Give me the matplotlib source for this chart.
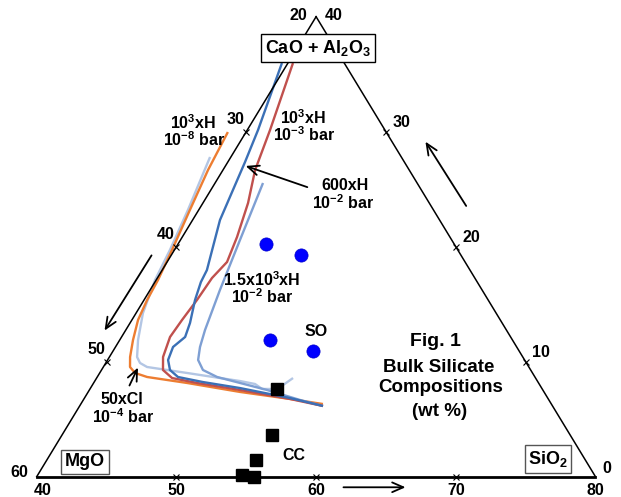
import numpy as np
import matplotlib.pyplot as plt

plt.rcParams['font.family'] = ['Liberation Sans', 'DejaVu Sans']
plt.rcParams['font.weight'] = 'bold'
plt.rcParams['mathtext.fontset'] = 'custom'
plt.rcParams['mathtext.rm'] = 'Liberation Sans:bold'
plt.rcParams['mathtext.it'] = 'Liberation Sans:bold'
plt.rcParams['mathtext.bf'] = 'Liberation Sans:bold'
plt.rcParams['mathtext.default'] = 'rm'

# Compositions in wt% : SiO2 and CaO+Al2O3 (MgO is the remainder)
# 10^3 x H, 10^-8 bar
h3_8_sio2 = [38.70, 38.93, 39.37, 39.83, 40.13, 40.22, 40.44, 40.95, 41.48, 41.91,
             42.53, 43.57, 46.69, 50.87, 54.75, 57.33]
h3_8_cao = [29.97, 26.67, 23.19, 19.71, 17.10, 15.37, 13.63, 11.89, 10.41, 9.54,
            9.02, 8.67, 8.15, 7.37, 6.76, 6.32]

# 50 x Cl, 10^-4 bar
cl_sio2 = [38.51, 39.23, 39.68, 39.92, 40.49, 41.31, 41.98, 42.45, 43.13, 46.25,
           48.83, 50.39, 51.60, 52.32, 53.03, 53.65, 54.06]
cl_cao = [27.80, 23.19, 19.71, 17.10, 14.23, 11.89, 10.41, 9.89, 9.54, 9.02,
          8.58, 8.32, 8.06, 7.63, 7.63, 7.97, 8.58]

# 10^3 x H, 10^-3 bar
h3_3_sio2 = [40.36, 41.63, 42.30, 43.23, 43.92, 44.29, 43.91, 43.79, 43.59, 43.47,
             43.84, 44.40, 45.40, 47.40, 50.78, 54.75, 57.42]
h3_3_cao = [35.97, 30.15, 26.67, 23.80, 20.84, 18.67, 17.28, 15.37, 13.63, 12.15,
            10.41, 9.28, 8.58, 8.15, 7.54, 6.76, 6.15]

# 600 x H, 10^-2 bar
h600_sio2 = [39.57, 40.77, 41.23, 41.96, 43.20, 43.29, 43.65, 44.29, 44.55, 44.12,
             44.33, 44.90, 45.78, 47.79, 50.69, 54.71, 57.42]
h600_cao = [35.97, 30.15, 27.37, 22.32, 17.97, 16.93, 15.37, 13.37, 12.15, 11.28,
            10.15, 9.28, 8.67, 8.23, 7.71, 6.84, 6.15]

# 1.5x10^3 x H, 10^-2 bar
h1500_sio2 = [43.43, 44.26, 45.00, 45.67, 46.05, 46.48, 47.26, 48.58, 50.48, 52.72,
              55.52, 57.42]
h1500_cao = [25.54, 20.58, 16.23, 12.76, 11.28, 10.15, 9.28, 8.67, 8.15, 7.54,
             6.67, 6.15]

# SO samples
so_sio2 = [46.29, 49.28, 50.76, 54.31]
so_cao = [20.23, 19.28, 11.89, 10.93]

# CC samples
cc_sio2 = [53.39, 55.03, 54.97, 54.62, 55.55]
cc_cao = [7.63, 3.63, 1.45, 0.15, 0.00]

left_ticks = [10, 20, 30]      # CaO+Al2O3 along the SiO2 = 40 edge
bottom_ticks = [50, 60, 70]    # SiO2 along the base
right_ticks = [10, 20, 30]     # CaO+Al2O3 along the MgO = 20 edge


def tern(sio2, cao):
    sio2 = np.asarray(sio2, dtype=float)
    cao = np.asarray(cao, dtype=float)
    return sio2 + cao / 2.0, cao


W, H = 621, 497
fig = plt.figure(figsize=(W / 100, H / 100), dpi=100)
ax = fig.add_axes([0, 0, 1, 1])
ax.set_xlim(37.373, 81.826)
ax.set_ylim(-1.765, 41.452)
ax.axis('off')


def ptxt(px, py, s, size=11.5, **kw):
    # text placed in canvas pixel units
    fig.text(px / W, 1 - py / H, s, fontsize=size, fontweight='bold',
             ha=kw.pop('ha', 'center'), va=kw.pop('va', 'center'), **kw)


# triangle frame
x, y = tern([40, 40], [0, 40])
ax.plot(x, y, color='black', lw=1.1, zorder=3)
x, y = tern([80, 40], [0, 40])
ax.plot(x, y, color='black', lw=1.1, zorder=3)
x, y = tern([40, 80], [0, 0])
ax.plot(x, y, color='black', lw=2.0, zorder=3)

# tick marks
x, y = tern([40] * 3, left_ticks)
ax.plot(x, y, 'x', color='black', ms=4, mew=0.8, zorder=3)
x, y = tern(bottom_ticks, [0] * 3)
ax.plot(x, y, 'x', color='black', ms=4, mew=0.8, zorder=3)
x, y = tern([80 - c for c in right_ticks], right_ticks)
ax.plot(x, y, 'x', color='black', ms=4, mew=0.8, zorder=3)

tkw = dict(textcoords='offset points', ha='center', va='center',
           fontsize=11.5, fontweight='bold')
for c in left_ticks:
    ax.annotate(str(60 - c), tern(40, c), xytext=(-7.5, 8.6), **tkw)
ax.annotate('60', tern(40, 0), xytext=(-12.5, 3.2), **tkw)
ax.annotate('20', tern(40, 40), xytext=(-13, 0.9), **tkw)
for s in [40] + bottom_ticks + [80]:
    dx = 4.3 if s == 40 else 0
    ax.annotate(str(s), tern(s, 0), xytext=(dx, -9.6), **tkw)
for c in right_ticks:
    ax.annotate(str(c), tern(80 - c, c), xytext=(11.3, 6.6), **tkw)
ax.annotate('0', tern(80, 0), xytext=(8.1, 6.0), **tkw)
ax.annotate('40', tern(40, 40), xytext=(13, 0.9), **tkw)

# model curves
curves = [
    (cl_sio2, cl_cao, '#b3c6e4'),
    (h3_8_sio2, h3_8_cao, '#ed7d31'),
    (h1500_sio2, h1500_cao, '#7e9fd3'),
    (h3_3_sio2, h3_3_cao, '#c0504d'),
    (h600_sio2, h600_cao, '#3b70b6'),
]
for s, c, col in curves:
    x, y = tern(s, c)
    ax.plot(x, y, color=col, lw=1.7, solid_joinstyle='round',
            solid_capstyle='butt', zorder=2)

# samples
x, y = tern(so_sio2, so_cao)
ax.plot(x, y, 'o', color='#0000ff', ms=9.5, mec='#0000cc', mew=0.5, zorder=4)
x, y = tern(cc_sio2, cc_cao)
ax.plot(x, y, 's', color='black', ms=8.6, zorder=4)

# direction arrows
akw = dict(arrowstyle='->,head_length=0.8,head_width=0.35', color='black', lw=1.3)
ax.annotate('', xy=tern(38.50, 12.50), xytext=tern(38.60, 19.45), arrowprops=akw)
ax.annotate('', xy=tern(53.05, 29.34), xytext=tern(59.18, 23.34), arrowprops=akw)
ax.annotate('', xy=tern(67.06, -0.92), xytext=tern(62.22, -0.92), arrowprops=akw)
ax.annotate('', xy=tern(41.22, 27.10), xytext=tern(47.01, 25.10), arrowprops=akw)
ax.annotate('', xy=tern(42.48, 9.71), xytext=tern(42.70, 7.71), arrowprops=akw)

# curve labels
ptxt(193, 123, r'10$^{3}$xH')
ptxt(194, 140, r'10$^{-8}$ bar')
ptxt(303, 118, r'10$^{3}$xH')
ptxt(304, 135, r'10$^{-3}$ bar')
ptxt(345, 185, '600xH')
ptxt(343, 203, r'10$^{-2}$ bar')
ptxt(262, 280, r'1.5x10$^{3}$xH')
ptxt(262, 297, r'10$^{-2}$ bar')
ptxt(122, 400, '50xCl')
ptxt(123, 417, r'10$^{-4}$ bar')
ptxt(316, 331, 'SO')
ptxt(294, 455, 'CC')

ptxt(435, 341, 'Fig. 1', size=14)
ptxt(439, 368, 'Bulk Silicate', size=13.5)
ptxt(441, 388, 'Compositions', size=13.5)
ptxt(440, 411, '(wt %)', size=13.5)

# vertex boxes
ptxt(318, 48, r'CaO + Al$_{2}$O$_{3}$', size=13, zorder=6,
     bbox=dict(boxstyle='square,pad=0.2', fc='white', ec='black', lw=1.0))
ptxt(85, 462, 'MgO', size=13,
     bbox=dict(boxstyle='square,pad=0.2', fc='white', ec='#555555', lw=1.0))
ptxt(548, 459, r'SiO$_{2}$', size=13,
     bbox=dict(boxstyle='square,pad=0.2', fc='white', ec='#555555', lw=1.0))

fig.savefig('out.png', dpi=100)
